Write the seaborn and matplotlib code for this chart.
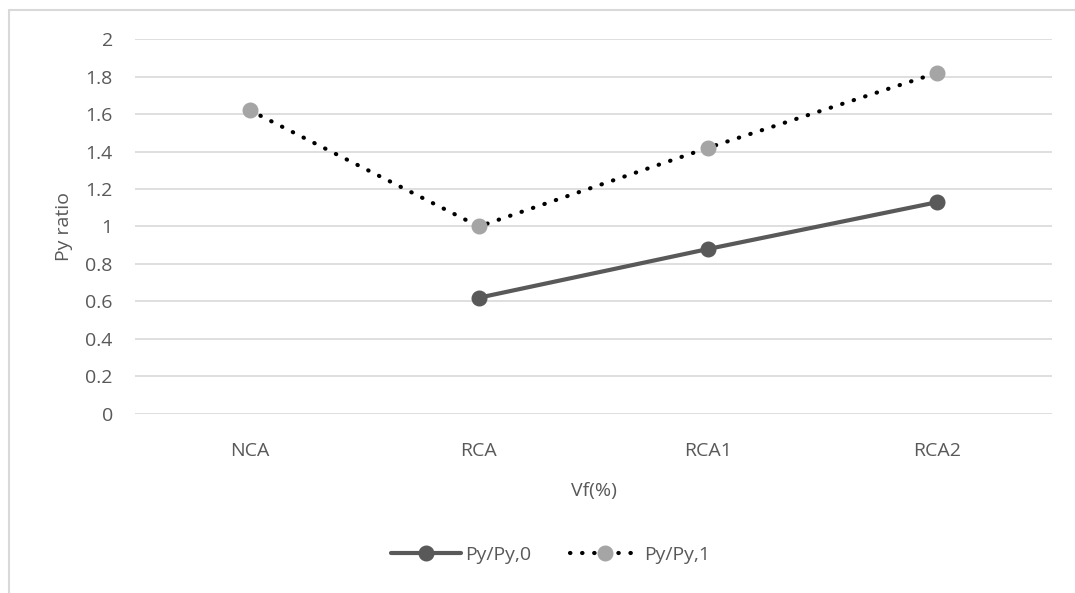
import numpy as np
import pandas as pd
import seaborn as sns
from matplotlib import pyplot as plt
from matplotlib.lines import Line2D

categories = ["NCA", "RCA", "RCA1", "RCA2"]
py0 = [np.nan, 0.62, 0.88, 1.13]
py1 = [1.62, 1.00, 1.42, 1.82]
yticks = [0, 0.2, 0.4, 0.6, 0.8, 1, 1.2, 1.4, 1.6, 1.8, 2]

sns.set_style("white")
plt.rcParams["font.family"] = ["Open Sans", "DejaVu Sans"]
txt = "#595959"
fs = 14

fig = plt.figure(figsize=(10.75, 5.93), dpi=100)
ax = fig.add_axes([0.1256, 0.3019, 0.8530, 0.6323])

x = np.arange(len(categories))
df = pd.DataFrame({"pos": x, "Py/Py,0": py0, "Py/Py,1": py1})

sns.lineplot(data=df, x="pos", y="Py/Py,1", ax=ax, color="black", lw=3,
             linestyle=(0, (0.1, 2.8)), dash_capstyle="round", zorder=3)
sns.lineplot(data=df, x="pos", y="Py/Py,0", ax=ax, color="#595959", lw=3, zorder=3)
ax.plot(x, py1, ls="none", marker="o", ms=10.5, color="#A5A5A5", mec="#A5A5A5", zorder=4)
ax.plot(x, py0, ls="none", marker="o", ms=10.5, color="#595959", mec="#595959", zorder=4)

ax.set_xlim(-0.5, len(categories) - 0.5)
ax.set_ylim(0, 2)
ax.set_xticks(x)
ax.set_xticklabels(categories)
ax.set_yticks(yticks)
ax.set_yticklabels([f"{v:g}" for v in yticks])
ax.tick_params(axis="both", length=0, labelsize=fs, labelcolor=txt)
ax.tick_params(axis="y", pad=16)
ax.tick_params(axis="x", pad=20)
ax.yaxis.grid(True, color="#D9D9D9", lw=1.2)
ax.set_axisbelow(True)
for s in ax.spines.values():
    s.set_visible(False)

ax.set_xlabel("Vf(%)", fontsize=fs, color=txt, labelpad=16)
ax.set_ylabel("Py ratio", fontsize=fs, color=txt, labelpad=9)

h0 = Line2D([], [], color="#595959", lw=3, marker="o", ms=10.5)
h1 = Line2D([], [], color="black", lw=3, ls=(0, (0.1, 2.8)), dash_capstyle="round",
            marker="o", ms=10.5, mfc="#A5A5A5", mec="#A5A5A5")
fig.legend([h0, h1], ["Py/Py,0", "Py/Py,1"], loc="center", bbox_to_anchor=(0.512, 0.064),
           ncol=2, frameon=False, fontsize=fs, labelcolor=txt, handlelength=3.6,
           numpoints=1, columnspacing=2.0, handletextpad=0.2)

# outer chart frame (top and left edges visible)
fig.add_artist(Line2D([9 / 1075, 1], [1 - 10 / 593, 1 - 10 / 593], color="#D9D9D9", lw=1.5))
fig.add_artist(Line2D([9 / 1075, 9 / 1075], [0, 1 - 10 / 593], color="#D9D9D9", lw=1.5))

fig.savefig("out.png", dpi=100)
